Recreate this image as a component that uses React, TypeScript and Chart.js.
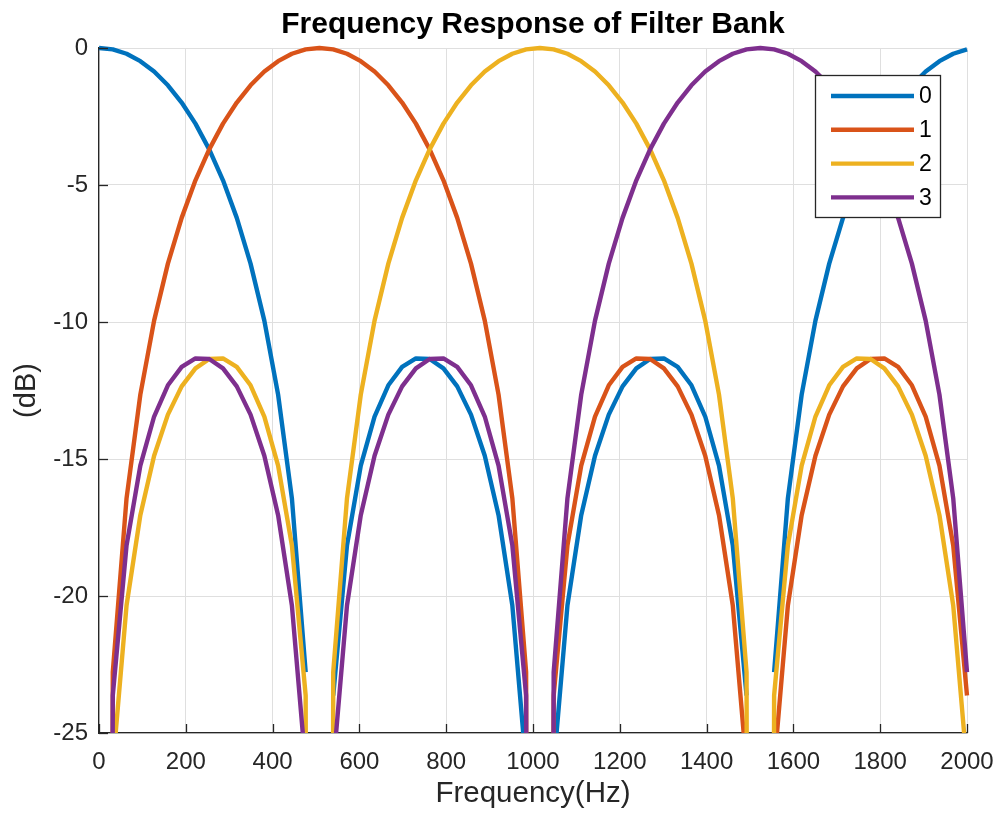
import React, { useEffect, useRef } from "react";
import { Chart, registerables } from "chart.js";

Chart.register(...registerables);

const TITLE = "Frequency Response of Filter Bank";
const X_LABEL = "Frequency(Hz)";
const Y_LABEL = "(dB)";
const SERIES_LABELS = ["0", "1", "2", "3"];
const COLORS = ["#0072BD", "#D95319", "#EDB120", "#7E2F8E"];

const FREQS = [
  0, 31.75, 63.49, 95.24, 126.98, 158.73, 190.48, 222.22, 253.97, 285.71,
  317.46, 349.21, 380.95, 412.7, 444.44, 476.19, 507.94, 539.68, 571.43, 603.17,
  634.92, 666.67, 698.41, 730.16, 761.9, 793.65, 825.4, 857.14, 888.89, 920.63,
  952.38, 984.13, 1015.87, 1047.62, 1079.37, 1111.11, 1142.86, 1174.6, 1206.35, 1238.1,
  1269.84, 1301.59, 1333.33, 1365.08, 1396.83, 1428.57, 1460.32, 1492.06, 1523.81, 1555.56,
  1587.3, 1619.05, 1650.79, 1682.54, 1714.29, 1746.03, 1777.78, 1809.52, 1841.27, 1873.02,
  1904.76, 1936.51, 1968.25, 2000,
];

const BAND0 = [
  0, -0.05, -0.21, -0.48, -0.86, -1.36, -1.99, -2.76, -3.7, -4.83, -6.2, -7.87, -9.95, -12.65, -16.43, -22.78,
  null, -23.63, -18.15, -15.24, -13.45, -12.31, -11.64, -11.33, -11.35, -11.69, -12.35, -13.38, -14.88, -17.05, -20.34, -26.23,
  null, -26.23, -20.34, -17.05, -14.88, -13.38, -12.35, -11.69, -11.35, -11.33, -11.64, -12.31, -13.45, -15.24, -18.15, -23.63,
  null, -22.78, -16.43, -12.65, -9.95, -7.87, -6.2, -4.83, -3.7, -2.76, -1.99, -1.36, -0.86, -0.48, -0.21, -0.05,
];

const BAND1 = [
  -300, -22.78, -16.43, -12.65, -9.95, -7.87, -6.2, -4.83, -3.7, -2.76, -1.99, -1.36, -0.86, -0.48, -0.21, -0.05,
  0, -0.05, -0.21, -0.48, -0.86, -1.36, -1.99, -2.76, -3.7, -4.83, -6.2, -7.87, -9.95, -12.65, -16.43, -22.78,
  -300, -23.63, -18.15, -15.24, -13.45, -12.31, -11.64, -11.33, -11.35, -11.69, -12.35, -13.38, -14.88, -17.05, -20.34, -26.23,
  -300, -26.23, -20.34, -17.05, -14.88, -13.38, -12.35, -11.69, -11.35, -11.33, -11.64, -12.31, -13.45, -15.24, -18.15, -23.63,
];

const BAND2 = [
  -300, -26.23, -20.34, -17.05, -14.88, -13.38, -12.35, -11.69, -11.35, -11.33, -11.64, -12.31, -13.45, -15.24, -18.15, -23.63,
  -300, -22.78, -16.43, -12.65, -9.95, -7.87, -6.2, -4.83, -3.7, -2.76, -1.99, -1.36, -0.86, -0.48, -0.21, -0.05,
  0, -0.05, -0.21, -0.48, -0.86, -1.36, -1.99, -2.76, -3.7, -4.83, -6.2, -7.87, -9.95, -12.65, -16.43, -22.78,
  -300, -23.63, -18.15, -15.24, -13.45, -12.31, -11.64, -11.33, -11.35, -11.69, -12.35, -13.38, -14.88, -17.05, -20.34, -26.23,
];

const BAND3 = [
  -300, -23.63, -18.15, -15.24, -13.45, -12.31, -11.64, -11.33, -11.35, -11.69, -12.35, -13.38, -14.88, -17.05, -20.34, -26.23,
  -300, -26.23, -20.34, -17.05, -14.88, -13.38, -12.35, -11.69, -11.35, -11.33, -11.64, -12.31, -13.45, -15.24, -18.15, -23.63,
  -300, -22.78, -16.43, -12.65, -9.95, -7.87, -6.2, -4.83, -3.7, -2.76, -1.99, -1.36, -0.86, -0.48, -0.21, -0.05,
  0, -0.05, -0.21, -0.48, -0.86, -1.36, -1.99, -2.76, -3.7, -4.83, -6.2, -7.87, -9.95, -12.65, -16.43, -22.78,
];

const BANDS = [BAND0, BAND1, BAND2, BAND3];

const FONT = "'Liberation Sans', Arial, Helvetica, sans-serif";
const AXIS_COLOR = "#262626";
const GRID_COLOR = "#dfdfdf";
const LINE_WIDTH = 4.4;

const innerTicksPlugin = {
  id: "innerTicks",
  afterDatasetsDraw(chart: any) {
    const { ctx, chartArea: a, scales } = chart;
    const xs = scales.x;
    const ys = scales.y;
    ctx.save();
    ctx.strokeStyle = AXIS_COLOR;
    ctx.lineWidth = 1.3;
    xs.ticks.forEach((t: any) => {
      const px = Math.round(xs.getPixelForValue(t.value)) + 0.5;
      ctx.beginPath();
      ctx.moveTo(px, a.bottom);
      ctx.lineTo(px, a.bottom - 9);
      ctx.stroke();
    });
    ys.ticks.forEach((t: any) => {
      const py = Math.round(ys.getPixelForValue(t.value)) + 0.5;
      ctx.beginPath();
      ctx.moveTo(a.left, py);
      ctx.lineTo(a.left + 9, py);
      ctx.stroke();
    });
    ctx.restore();
  },
};

const axesTitlePlugin = {
  id: "axesTitle",
  afterDraw(chart: any) {
    const { ctx, chartArea: a } = chart;
    ctx.save();
    ctx.fillStyle = "#000000";
    ctx.font = `bold 30px ${FONT}`;
    ctx.textAlign = "center";
    ctx.textBaseline = "middle";
    ctx.fillText(TITLE, (a.left + a.right) / 2, a.top - 23);
    ctx.restore();
  },
};

const boxLegendPlugin = {
  id: "boxLegend",
  afterDraw(chart: any) {
    const { ctx, chartArea: a } = chart;
    const w = 125;
    const h = 142;
    const left = a.right - 152;
    const top = a.top + 27;
    ctx.save();
    ctx.fillStyle = "#ffffff";
    ctx.fillRect(left, top, w, h);
    ctx.strokeStyle = AXIS_COLOR;
    ctx.lineWidth = 1.3;
    ctx.strokeRect(left + 0.5, top + 0.5, w, h);
    chart.data.datasets.forEach((ds: any, k: number) => {
      const y = top + 21 + k * 33.8;
      ctx.strokeStyle = ds.borderColor;
      ctx.lineWidth = LINE_WIDTH;
      ctx.lineCap = "butt";
      ctx.beginPath();
      ctx.moveTo(left + 16, y);
      ctx.lineTo(left + 99, y);
      ctx.stroke();
      ctx.fillStyle = "#000000";
      ctx.font = `23px ${FONT}`;
      ctx.textAlign = "left";
      ctx.textBaseline = "middle";
      ctx.fillText(ds.label, left + 104, y + 1);
    });
    ctx.restore();
  },
};

export default function App() {
  const canvasRef = useRef<HTMLCanvasElement | null>(null);

  useEffect(() => {
    document.body.style.margin = "0";
    const canvas = canvasRef.current;
    if (!canvas) return;
    const datasets = BANDS.map((band, k) => ({
      label: SERIES_LABELS[k],
      data: FREQS.map((f, i) => ({ x: f, y: band[i] })),
      borderColor: COLORS[k],
      backgroundColor: COLORS[k],
      borderWidth: LINE_WIDTH,
      pointRadius: 0,
      pointHoverRadius: 0,
      tension: 0,
      spanGaps: false,
      fill: false,
      borderJoinStyle: "round" as const,
      borderCapStyle: "butt" as const,
      order: BANDS.length - k,
      clip: { left: 4, top: 4, right: 4, bottom: 0 },
    }));

    const chart = new Chart(canvas, {
      type: "line",
      data: { datasets },
      plugins: [innerTicksPlugin, axesTitlePlugin, boxLegendPlugin],
      options: {
        animation: false,
        responsive: false,
        devicePixelRatio: 1,
        parsing: false as any,
        layout: { padding: { left: 0, right: 30, top: 48, bottom: 0 } },
        plugins: {
          legend: { display: false },
          tooltip: { enabled: false },
          title: { display: false },
        },
        scales: {
          x: {
            type: "linear",
            min: 0,
            max: 2000,
            ticks: {
              stepSize: 200,
              autoSkip: false,
              maxRotation: 0,
              color: AXIS_COLOR,
              font: { family: FONT, size: 24 },
              padding: 15,
              callback: (v: any) => String(v),
            },
            grid: { color: GRID_COLOR, lineWidth: 1, drawTicks: false },
            border: { color: AXIS_COLOR, width: 1.3 },
            title: {
              display: true,
              text: X_LABEL,
              color: AXIS_COLOR,
              font: { family: FONT, size: 29.5 },
              padding: { top: 0, bottom: 6 },
            },
            afterFit: (s: any) => {
              s.height = 85;
              s.paddingLeft = 0;
              s.paddingRight = 0;
            },
          },
          y: {
            type: "linear",
            min: -25,
            max: 0,
            ticks: {
              stepSize: 5,
              color: AXIS_COLOR,
              font: { family: FONT, size: 24 },
              padding: 11,
            },
            grid: { color: GRID_COLOR, lineWidth: 1, drawTicks: false },
            border: { color: AXIS_COLOR, width: 1.3 },
            title: {
              display: true,
              text: Y_LABEL,
              color: AXIS_COLOR,
              font: { family: FONT, size: 29 },
              padding: { top: 10, bottom: 0 },
            },
            afterFit: (s: any) => {
              s.width = 99;
              s.paddingTop = 0;
              s.paddingBottom = 0;
            },
          },
        },
      },
    });
    return () => chart.destroy();
  }, []);

  return (
    <div style={{ position: "absolute", left: 0, top: 0, width: 997, height: 818, background: "#ffffff" }}>
      <canvas ref={canvasRef} width={997} height={818} />
    </div>
  );
}
